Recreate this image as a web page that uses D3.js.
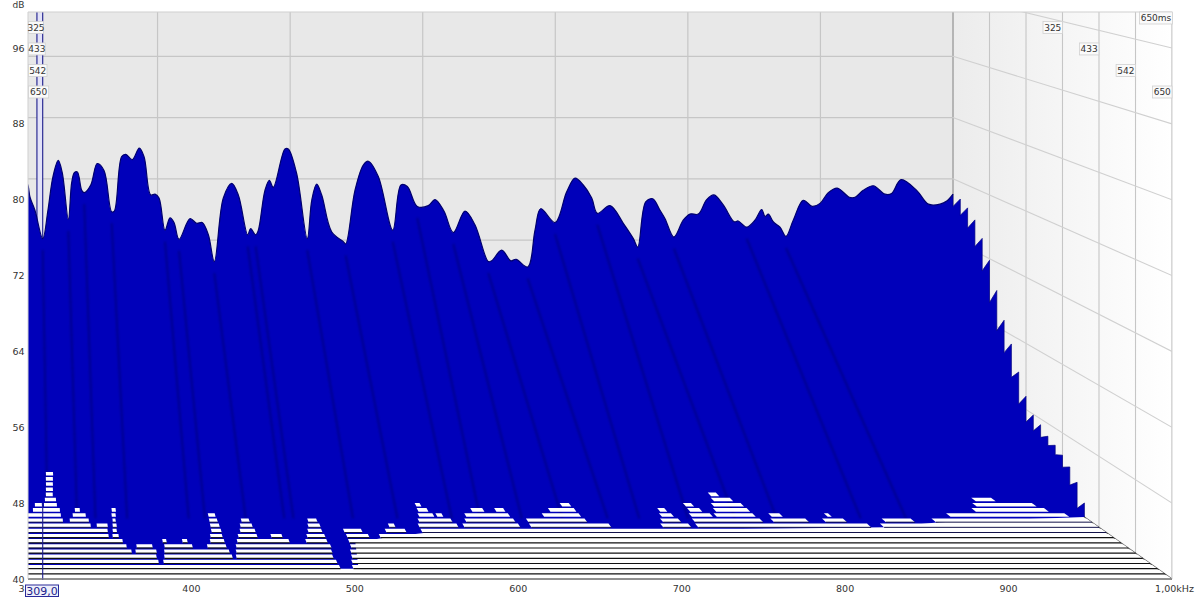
<!DOCTYPE html>
<html><head><meta charset="utf-8">
<style>html,body{margin:0;padding:0;background:#fff}svg{display:block}text{font-family:"DejaVu Sans",sans-serif}</style>
<script src="https://cdn.jsdelivr.net/npm/d3@7/dist/d3.min.js"></script>
</head><body><svg id="c" width="1200" height="597"></svg>
<script>
// ---------- data ----------
const freqTicks=[400,500,600,700,800,900];
const backFreqGrid=[400,500,600,700,800,900,1000];
const dbTicks=[40,48,56,64,72,80,88,96];
const timeGrid=[108.3,216.7,325,433.3,541.7,650];
const timeLabels=[325,433,542,650];
const cursorHz=309;
const sliceCount=30;
// back-slice silhouette of the waterfall
const profileHz=[300,302.3,303.8,307.5,313.4,317.3,321.1,325.1,328.1,332.7,335.2,337.2,339.5,342.8,344.7,349.6,354.5,359.6,365.4,367.4,372.9,376,380.9,386.2,389.8,394.8,398.1,401.1,405.6,409.4,412.4,416.2,424.5,429.5,433.7,438.3,442.8,449.6,455.9,460.9,468,470.2,474,476,481,484.3,487.3,496.1,498.6,504.9,512.9,516.3,520,523.8,531.3,540.1,541.9,548.9,555.2,559,566.5,577.4,583.6,588.4,595.9,604.2,609.3,616,623.1,631.9,639.4,649.5,652,659.6,666.4,670.4,679.2,684.7,689,699.8,708.6,714.9,721.1,727.5,731.7,741.3,751.3,758.9,762.2,768.2,773.5,779,782.8,789.5,796.5,801.6,807.9,814.2,819.7,826.7,835,838,844.4,850.6,855.7,858.2,860.7,864.4,869.5,874,879.5,887,893.8,899.7,905.9,912.7,921.8,926.1,932.3,939.9,948.7,953.7,960.8,972.6,981.4,990.2,995.3,1000];
const profileDb=[72,71.1,69.6,67.9,64.2,67.9,72.3,74.4,72.8,66.7,71.5,72.8,72.9,70.5,70.2,71.2,74,73.1,67.7,67.8,74.9,75.2,74.5,76,74.9,69.9,70,69.5,65.3,66.9,66.3,64.1,66.8,66.2,66.3,64.7,61.2,69.5,71.4,69.9,64.7,65.5,64.7,65.3,70.5,71.8,70.9,75.9,75.9,72.7,64.2,69.2,71.3,69.9,65.1,63.8,63.5,70.5,73.8,74.3,72.3,65.3,71.2,71,68.4,68.5,69.3,67.8,65,67.8,66,61.2,61.3,62.7,61.3,61.5,60.5,65.3,68.1,66.3,70.3,72.1,71.2,69.5,67.5,68.5,66.2,64.2,63.1,69,69.4,67.9,66.8,64.4,66.6,67.4,67.4,69.3,69.9,68.6,66.4,66.5,65.7,66.6,68,67.1,67.4,66.4,65.7,64.5,66.6,69.2,68.4,68.8,70.2,70.8,69.6,69.6,70.5,71.1,70,70.1,71.9,70.5,68.7,68.7,69.1,70];
// level at 1 kHz of slices 0..18: the tooth tip and the foot of the tooth
const edgeTipDb=[70,69.8,69.1,68,66.1,63.8,60.5,57.3,54.9,52,49.6,47.9,47.3,46.5,46,45.4,44.6,43.4,41.6];
const edgeFootDb=[68.4,67.7,66.5,64.6,62,58.5,55.5,53.3,50.8,48.1,46.5,46,45.8,45.4,44.9,44,42.5,40.4,40];
// dips that persist through the decay
const dipHz=[313.4,332.7,344.7,365.4,405.6,416.2,442.8,468,474,512.9,541.9,577.4,595.9,623.1,649.5,679.2,699.8,731.7,762.2,789.5,844.4,874];
// slice numbers and the frequency spans of the floor left uncovered on them
const floorSlices=[10,11,12,13,14,15,16,17,18,19,20,21,22,23,24,25,26,27,28,29,30];
const floorGaps=[
[[314,319]],
[[313.8,318.7]],
[[313.7,318.5]],
[[313.5,318.3]],
[[313.3,318],[766,771.5]],
[[312.5,320],[764.7,777.6],[941.6,955]],
[[305.6,310.3],[311.7,320.4],[561.7,565],[659.5,665.6],[742.6,748],[761.4,781.5],[937.7,977.9]],
[[304.2,322.2],[332.2,335.5],[356.8,359.5],[561.2,567.8],[597.1,605.1],[613.1,619.1],[649.1,666.4],[722.3,727],[742.3,750.3],[759.6,782.2],[932.7,981.3]],
[[300,322.6],[330.5,339.1],[356.3,359],[420.4,425],[559.9,569.8],[571.8,575.8],[591,620],[642.5,667],[720.5,728.4],[740.3,754.2],[756.8,782.6],[793.2,800.5],[830.2,832.9],[911.5,990.1]],
[[300,323.7],[328.3,340.8],[356.5,358.5],[420.2,425.5],[441.3,446.5],[485.2,491.1],[558.1,579.8],[589,621.2],[629.7,668.4],[718.3,730.1],[739.3,784],[791.2,814.2],[825.3,839.1],[864.7,883.8],[897.6,1000]],
[[300,341.7],[345.7,352.8],[356.1,358.7],[420,425.9],[439.6,447.4],[484,491.8],[536.8,540.7],[556.4,581.8],[585.7,622.2],[629.4,681.6],[715.5,733.8],[738.4,851.2],[859.7,1000]],
[[300,352.4],[355.7,358.3],[419.8,426.2],[438.5,448.3],[482.6,491.6],[505.9,517.6],[533.1,546.1],[556.4,1000]],
[[300,352.6],[355.2,359.1],[418.3,426],[436.3,448.5],[457.5,464.6],[480.7,492.3],[506.4,520.6],[527.7,1000]],
[[300,361.2],[386.8,389.3],[399.5,402.7],[417.4,426.4],[434.7,468],[478.8,492.3],[506.3,1000]],
[[300,363.2],[369.6,379.7],[387.4,405.2],[414.7,426.7],[433.1,493.4],[506.1,1000]],
[[300,365.9],[368.5,381.7],[386.7,427.8],[432.2,492.7],[504.7,1000]],
[[300,381.1],[386.1,428.8],[431.3,492.1],[504,1000]],
[[300,381.8],[384.9,493.2],[502.7,1000]],
[[300,493.8],[501.8,1000]],
[[300,1000]],
[[300,1000]]];

// ---------- projection ----------
const L=28,R=1172,T=12,B=579,BW=953;
const tMax=650,dt=tMax/sliceCount;
const xBack=d3.scaleLinear([300,1000],[25,BW]);
const xFront=d3.scaleLinear([300,1000],[L,R]);
const yBack=d3.scaleLinear([40,96],[424,-5]);
const yFront=d3.scaleLinear([40,96],[B,B-7*75.85]);
const depth=d3.scaleLinear([0,tMax],[0,1]);
const P=(f,t,db)=>{const u=depth(t);return [xBack(f)+(xFront(f)-xBack(f))*u,yBack(db)+(yFront(db)-yBack(db))*u];};
const poly=d3.line();
const smooth=d3.line().curve(d3.curveCatmullRom.alpha(.5));
const svg=d3.select('#c');
const defs=svg.append('defs');
const g=defs.append('linearGradient').attr('id','wall');
g.append('stop').attr('offset',0).attr('stop-color','#ececec');
g.append('stop').attr('offset',1).attr('stop-color','#ffffff');
defs.append('clipPath').attr('id','plot').append('rect').attr('x',L).attr('y',T).attr('width',R-L).attr('height',B-T+1);
defs.append('filter').attr('id','soft').attr('x','-20%').attr('y','-5%').attr('width','140%').attr('height','110%')
  .append('feGaussianBlur').attr('stdDeviation',1.1);

const plot=svg.append('g').attr('clip-path','url(#plot)');
const gridC='#c6c6c6';
// walls
plot.append('rect').attr('x',L).attr('y',T).attr('width',BW-L).attr('height',B-T).attr('fill','#e8e8e8');
plot.append('rect').attr('x',BW).attr('y',T).attr('width',R-BW).attr('height',B-T).attr('fill','url(#wall)');
plot.append('path').attr('d',poly([P(300,0,40),P(1000,0,40),P(1000,tMax,40),P(300,tMax,40)])).attr('fill','#fff');
// back wall grid
plot.selectAll('.bv').data(backFreqGrid).join('line').attr('class','bv').attr('x1',d=>xBack(d)).attr('x2',d=>xBack(d)).attr('y1',T).attr('y2',yBack(40))
 .attr('stroke',d=>d===1000?'#a8a8a8':gridC).attr('stroke-width',d=>d===1000?1.6:1.2);
plot.selectAll('.bh').data(dbTicks).join('line').attr('class','bh').attr('x1',L).attr('x2',BW).attr('y1',d=>yBack(d)).attr('y2',d=>yBack(d)).attr('stroke',gridC).attr('stroke-width',1.2);
// side wall grid
plot.selectAll('.sv').data(timeGrid).join('line').attr('class','sv').each(function(t){const a=P(1000,t,40);d3.select(this).attr('x1',a[0]).attr('x2',a[0]).attr('y1',T).attr('y2',a[1]);}).attr('stroke',gridC).attr('stroke-width',1.1);
plot.selectAll('.sh').data(dbTicks).join('line').attr('class','sh').each(function(d){const a=P(1000,0,d),b=P(1000,tMax,d);d3.select(this).attr('x1',a[0]).attr('y1',a[1]).attr('x2',b[0]).attr('y2',b[1]);}).attr('stroke',d=>d===40?'#555':'#d0d0d0').attr('stroke-width',1.1);
// cursor behind the waterfall
const cb=xBack(cursorHz),cf=xFront(cursorHz);
plot.append('rect').attr('x',cb).attr('y',T).attr('width',cf-cb).attr('height',300).attr('fill','#e2e2f8');
plot.selectAll('.cur').data([cb,cf]).join('line').attr('class','cur').attr('x1',d=>d).attr('x2',d=>d).attr('y1',T).attr('y2',400).attr('stroke','#1c1c8c').attr('stroke-width',1.1);

// waterfall silhouette
const ridge=profileHz.map((f,i)=>P(f,0,profileDb[i]));
const edge=[];
edgeTipDb.forEach((db,k)=>{edge.push(P(1000,k*dt,db));edge.push(P(1000,k*dt,edgeFootDb[k]));});
const under=[P(1000,18*dt,40),P(900,19*dt,40),P(862,20*dt,40),P(560,21*dt,40),P(530,22*dt,40),P(510,23*dt,40),P(505,28*dt,40),P(300,28*dt,40)];
plot.append('path').attr('d',smooth(ridge)+poly(edge.concat(under)).replace(/^M/,'L')+'Z').attr('fill','#0000ba');
plot.append('path').attr('d',smooth(ridge)).attr('fill','none').attr('stroke','#00006e').attr('stroke-width',1.2);
plot.append('path').attr('d',poly(edge)).attr('fill','none').attr('stroke','#000080').attr('stroke-width',.7);
// dip streaks
const dipDb=f=>profileDb[d3.bisectLeft(profileHz,f)];
plot.append('g').attr('filter','url(#soft)').selectAll('path').data(dipHz).join('path')
 .attr('d',f=>poly([P(f,0,dipDb(f)-1.5),P(f,20*dt,41)]))
 .attr('fill','none').attr('stroke','#000050').attr('stroke-opacity',.45).attr('stroke-width',1.8);

// floor strips
floorSlices.forEach((k,i)=>{
  const rows=plot.append('g');
  rows.selectAll('path').data(floorGaps[i]).join('path')
   .attr('d',s=>poly([P(s[0],(k-.72)*dt,40),P(s[1],(k-.72)*dt,40),P(s[1],(k-.03)*dt,40),P(s[0],(k-.03)*dt,40)])+'Z')
   .attr('fill','#fff');
  if(k>=19){
    rows.selectAll('line').data(floorGaps[i]).join('line')
     .attr('x1',s=>P(s[0],k*dt,40)[0]).attr('x2',s=>P(s[1],k*dt,40)[0])
     .attr('y1',P(300,k*dt,40)[1]).attr('y2',P(300,k*dt,40)[1])
     .attr('stroke',k<22?'#12124a':'#111').attr('stroke-width',k<22?1:1.2);
  }
});
// cursor over the floor
plot.append('line').attr('x1',cf).attr('x2',cf).attr('y1',503).attr('y2',B+1).attr('stroke','#1c1c8c').attr('stroke-width',1.1);

// frame
svg.append('path').attr('d',`M${L},${B}V${T}H${R}V${B}`).attr('fill','none').attr('stroke','#cfcfcf').attr('stroke-width',1);
svg.append('line').attr('x1',L).attr('x2',R).attr('y1',B).attr('y2',B).attr('stroke','#9a9a9a').attr('stroke-width',1);

// axis labels
const txt='#333';
svg.selectAll('.yl').data(dbTicks).join('text').attr('class','yl').attr('x',24.5).attr('y',d=>yFront(d)+3.5).attr('text-anchor','end').attr('font-size',9.5).attr('fill',txt).text(d=>d);
svg.append('text').attr('x',24.5).attr('y',8).attr('text-anchor','end').attr('font-size',9).attr('fill',txt).text('dB');
svg.selectAll('.xl').data(freqTicks).join('text').attr('class','xl').attr('x',d=>xFront(d)).attr('y',592).attr('text-anchor','middle').attr('font-size',9.5).attr('fill',txt).text(d=>d);
svg.append('text').attr('x',24.5).attr('y',592).attr('text-anchor','end').attr('font-size',9.5).attr('fill',txt).text('3');
svg.append('text').attr('x',1174.5).attr('y',592).attr('text-anchor','middle').attr('font-size',9.5).attr('fill',txt).text('1,00kHz');

// time labels
const labelY=d3.scaleLinear([325,650],[27.5,92]);
function tag(x0,x1,cy,s,h){
  svg.append('rect').attr('x',x0+.5).attr('y',cy-(h||12)/2).attr('width',x1-x0).attr('height',h||12).attr('fill','#fafafa').attr('stroke','#d0d0d0').attr('stroke-width',.8);
  svg.append('text').attr('x',(x0+x1)/2+.5).attr('y',cy+3.4).attr('text-anchor','middle').attr('font-size',9).attr('fill','#333').text(s);
}
timeLabels.forEach(t=>{
  const wall=P(1000,t,40)[0];
  tag(wall-20,wall-.5,labelY(t),t);
  tag(L,L+15+(t-325)*0.016,labelY(t),t);
});
tag(1139,1172,18,'650ms',12);

// cursor readout
svg.append('rect').attr('x',25.5).attr('y',585).attr('width',33).attr('height',11.5).attr('fill','#eef0fb').attr('stroke','#2a2a9a').attr('stroke-width',1);
svg.append('text').attr('x',42).attr('y',594.8).attr('text-anchor','middle').attr('font-size',11).attr('fill','#1c1c8c').text('309,0');
</script></body></html>
